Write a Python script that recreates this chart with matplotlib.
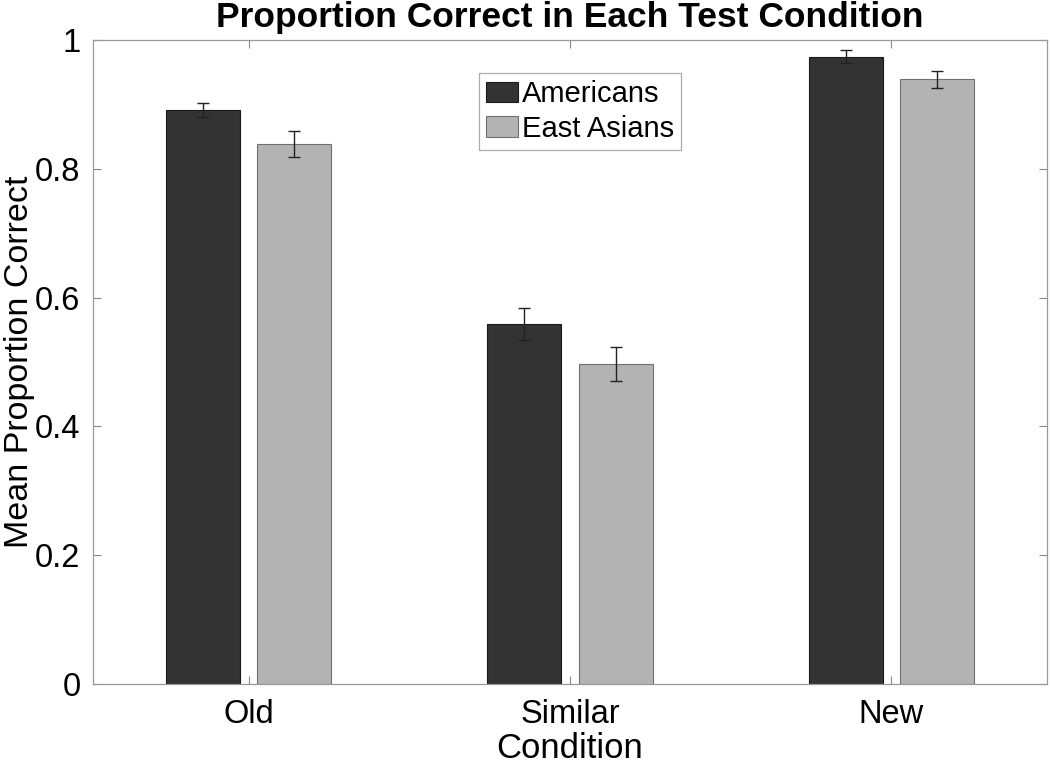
import numpy as np
from matplotlib import pyplot as plt

plt.rcParams['font.family'] = ['Liberation Sans', 'DejaVu Sans']

conditions = ['Old', 'Similar', 'New']
groups = ['Americans', 'East Asians']
americans = [0.891, 0.559, 0.974]
americans_err = [0.011, 0.025, 0.010]
east_asians = [0.839, 0.497, 0.939]
east_asians_err = [0.020, 0.026, 0.013]
y_ticks = [0, 0.2, 0.4, 0.6, 0.8, 1]
y_labels = ['0', '0.2', '0.4', '0.6', '0.8', '1']

fig = plt.figure(figsize=(10.5, 7.72), dpi=100)
ax = fig.add_axes([93 / 1050, 1 - 684 / 772, 954 / 1050, 644 / 772])

x = np.arange(1, len(conditions) + 1)
width = 0.23
offset = 0.142
err_style = dict(ecolor='#222222', elinewidth=1, capsize=4, capthick=1)

ax.bar(x - offset, americans, width, yerr=americans_err, color='#333333',
       edgecolor='#1a1a1a', linewidth=0.8, label=groups[0], error_kw=err_style)
ax.bar(x + offset, east_asians, width, yerr=east_asians_err, color='#b3b3b3',
       edgecolor='#707070', linewidth=0.8, label=groups[1], error_kw=err_style)

ax.set_xlim(0.515, 3.485)
ax.set_ylim(0, 1)
ax.set_xticks(x)
ax.set_xticklabels(conditions)
ax.set_yticks(y_ticks)
ax.set_yticklabels(y_labels)
ax.tick_params(direction='in', length=6, width=0.8, color='#888888',
               labelsize=23.5, top=True, right=True)
ax.tick_params(axis='x', pad=11)
ax.tick_params(axis='y', pad=9)
for s in ax.spines.values():
    s.set_color('#999999')
    s.set_linewidth(0.9)

ax.set_xlabel('Condition', fontsize=25, labelpad=1)
ax.set_ylabel('Mean Proportion Correct', fontsize=24.5)
ax.yaxis.set_label_coords((35 - 93) / 954, 0.5)
ax.set_title('Proportion Correct in Each Test Condition', fontsize=25.5,
             fontweight='bold', pad=9)

leg = ax.legend(loc='upper left', bbox_to_anchor=((479 - 93) / 954, 1 - (73 - 40) / 644),
                fontsize=21, frameon=True, fancybox=False, handlelength=1.1,
                handleheight=0.7, handletextpad=0.12, borderpad=0.25,
                labelspacing=0.22, borderaxespad=0)
leg.get_frame().set_edgecolor('#999999')
leg.get_frame().set_linewidth(0.9)

fig.savefig('out.png', dpi=100)
